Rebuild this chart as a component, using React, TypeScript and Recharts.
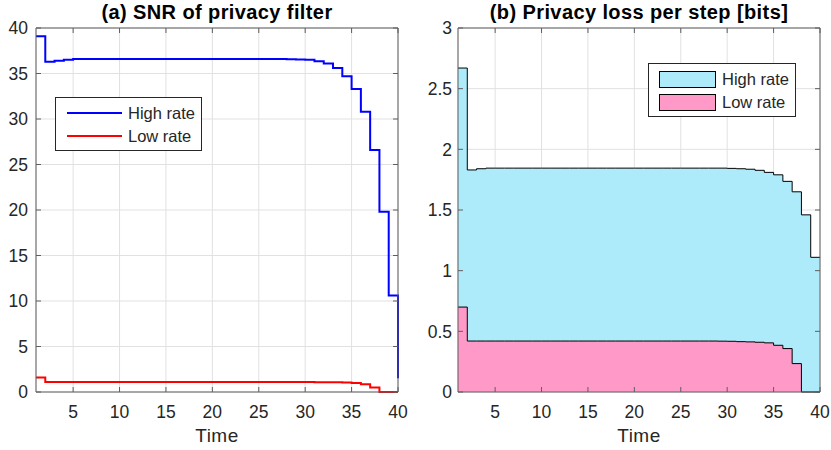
import { Area, AreaChart, CartesianGrid, Legend, Line, LineChart, XAxis, YAxis } from "recharts";

const time = [
  1, 2, 3, 4, 5, 6, 7, 8, 9, 10, 11, 12, 13, 14, 15, 16, 17, 18, 19, 20,
  21, 22, 23, 24, 25, 26, 27, 28, 29, 30, 31, 32, 33, 34, 35, 36, 37, 38, 39, 40,
];

// (a) SNR of privacy filter
const snrHigh = [
  39.1, 36.3, 36.4, 36.5, 36.6, 36.6, 36.6, 36.6, 36.6, 36.6, 36.6, 36.6, 36.6, 36.6, 36.6, 36.6,
  36.6, 36.6, 36.6, 36.6, 36.6, 36.6, 36.6, 36.6, 36.6, 36.6, 36.58, 36.57, 36.55, 36.5, 36.35,
  36.1, 35.6, 34.7, 33.3, 30.8, 26.6, 19.8, 10.6, 1.5,
];
const snrLow = [
  1.6, 1.1, 1.1, 1.1, 1.1, 1.1, 1.1, 1.1, 1.1, 1.1, 1.1, 1.1, 1.1, 1.1, 1.1, 1.1, 1.1, 1.1, 1.1,
  1.1, 1.1, 1.1, 1.1, 1.1, 1.1, 1.1, 1.1, 1.1, 1.1, 1.09, 1.08, 1.07, 1.06, 1.04, 1.0, 0.85, 0.5,
  0, 0, 0,
];

// (b) Privacy loss per step [bits]
const lossHigh = [
  2.67, 1.83, 1.84, 1.845, 1.845, 1.845, 1.845, 1.845, 1.845, 1.845, 1.845, 1.845, 1.845, 1.845,
  1.845, 1.845, 1.845, 1.845, 1.845, 1.845, 1.845, 1.845, 1.845, 1.845, 1.845, 1.845, 1.845, 1.845,
  1.845, 1.843, 1.84, 1.836, 1.827, 1.81, 1.79, 1.736, 1.65, 1.46, 1.11, 1.11,
];
const lossLow = [
  0.7, 0.42, 0.42, 0.42, 0.42, 0.42, 0.42, 0.42, 0.42, 0.42, 0.42, 0.42, 0.42, 0.42, 0.42, 0.42,
  0.42, 0.42, 0.42, 0.42, 0.42, 0.42, 0.42, 0.42, 0.42, 0.42, 0.42, 0.42, 0.419, 0.418, 0.415,
  0.413, 0.41, 0.405, 0.385, 0.358, 0.234, 0, 0, 0,
];

const timeTicks = [5, 10, 15, 20, 25, 30, 35, 40];
const snrTicks = [0, 5, 10, 15, 20, 25, 30, 35, 40];
const lossTicks = [0, 0.5, 1, 1.5, 2, 2.5, 3];

const FONT = '"Liberation Sans", Arial, Helvetica, sans-serif';
const AXIS = "#5e5e5e";
const TEXT = "#262626";
const GRID = "#e1e1e1";
const CYAN = "#adebfb";
const PINK = "#ff99c8";

const TICK = { fill: TEXT, fontSize: 17.5 };
const TIME_LABEL = { value: "Time", position: "insideBottom" as const, offset: 8, fill: TEXT, fontSize: 19, letterSpacing: 0.5 };

const blank = () => "";

function LineLegend() {
  const rows = [
    { name: "High rate", color: "#0000ff" },
    { name: "Low rate", color: "#ff0000" },
  ];
  return (
    <div
      style={{
        width: 147,
        height: 54,
        boxSizing: "border-box",
        border: `1px solid ${TEXT}`,
        background: "#fff",
        position: "relative",
        fontFamily: FONT,
        fontSize: 16.5,
        color: TEXT,
      }}
    >
      {rows.map((r, i) => (
        <div key={r.name} style={{ position: "absolute", left: 0, top: 5 + i * 23, height: 20, display: "flex", alignItems: "center" }}>
          <div style={{ marginLeft: 11, width: 55, height: 2, background: r.color }} />
          <span style={{ marginLeft: 6, lineHeight: "20px" }}>{r.name}</span>
        </div>
      ))}
    </div>
  );
}

function AreaLegend() {
  const rows = [
    { name: "High rate", color: CYAN },
    { name: "Low rate", color: PINK },
  ];
  return (
    <div
      style={{
        width: 148,
        height: 54,
        boxSizing: "border-box",
        border: `1px solid ${TEXT}`,
        background: "#fff",
        position: "relative",
        fontFamily: FONT,
        fontSize: 16.5,
        color: TEXT,
      }}
    >
      {rows.map((r, i) => (
        <div key={r.name} style={{ position: "absolute", left: 0, top: 5 + i * 23, height: 20, display: "flex", alignItems: "center" }}>
          <div style={{ marginLeft: 10, width: 57, height: 17, boxSizing: "border-box", border: "1px solid #000", background: r.color }} />
          <span style={{ marginLeft: 6, lineHeight: "20px" }}>{r.name}</span>
        </div>
      ))}
    </div>
  );
}

function SnrChart() {
  const data = time.map((t, i) => ({ t, high: snrHigh[i], low: snrLow[i] }));
  return (
    <LineChart width={415} height={450} data={data} margin={{ top: 0, right: 16, bottom: 0, left: 6 }} style={{ fontFamily: FONT }}>
      <CartesianGrid stroke={GRID} />
      <XAxis
        dataKey="t"
        type="number"
        domain={[1, 40]}
        ticks={timeTicks}
        height={58}
        tickSize={-5}
        tickMargin={18.5}
        stroke={AXIS}
        tick={TICK}
        label={TIME_LABEL}
      />
      <XAxis
        xAxisId="top"
        orientation="top"
        dataKey="t"
        type="number"
        domain={[1, 40]}
        ticks={timeTicks}
        allowDataOverflow
        height={28}
        tickSize={-5}
        tickFormatter={blank}
        stroke={AXIS}
        label={{ value: "(a) SNR of privacy filter", position: "insideTop", offset: 4.8, fill: "#000", fontSize: 20, fontWeight: "bold", letterSpacing: 0.4 }}
      />
      <YAxis
        type="number"
        domain={[0, 40]}
        ticks={snrTicks}
        width={30}
        tickSize={-5}
        tickMargin={13}
        stroke={AXIS}
        tick={TICK}
      />
      <YAxis
        yAxisId="right"
        orientation="right"
        type="number"
        domain={[0, 40]}
        ticks={snrTicks}
        allowDataOverflow
        width={1}
        tickSize={-5}
        tickFormatter={blank}
        stroke={AXIS}
      />
      <Legend
        layout="horizontal"
        verticalAlign="middle"
        align="center"
        content={() => <LineLegend />}
        wrapperStyle={{ left: 55, top: 97, width: 147, height: 54 }}
      />
      <Line type="stepAfter" dataKey="high" name="High rate" stroke="#0000ff" strokeWidth={2} dot={false} isAnimationActive={false} />
      <Line type="stepAfter" dataKey="low" name="Low rate" stroke="#ff0000" strokeWidth={2} dot={false} isAnimationActive={false} />
    </LineChart>
  );
}

function LossChart() {
  const data = time.map((t, i) => ({ t, high: lossHigh[i], low: lossLow[i] }));
  return (
    <AreaChart width={416} height={450} data={data} margin={{ top: 0, right: 10, bottom: 0, left: 10 }} style={{ fontFamily: FONT }}>
      <CartesianGrid stroke={GRID} />
      <XAxis
        dataKey="t"
        type="number"
        domain={[1, 40]}
        ticks={timeTicks}
        height={58}
        tickSize={-5}
        tickMargin={18.5}
        stroke={AXIS}
        tick={TICK}
        label={TIME_LABEL}
      />
      <XAxis
        xAxisId="top"
        orientation="top"
        dataKey="t"
        type="number"
        domain={[1, 40]}
        ticks={timeTicks}
        allowDataOverflow
        height={28}
        tickSize={-5}
        tickFormatter={blank}
        stroke={AXIS}
        label={{ value: "(b) Privacy loss per step [bits]", position: "insideTop", offset: 4.8, fill: "#000", fontSize: 20, fontWeight: "bold", letterSpacing: 0.4 }}
      />
      <YAxis
        type="number"
        domain={[0, 3]}
        ticks={lossTicks}
        width={33}
        tickSize={-5}
        tickMargin={11}
        stroke={AXIS}
        tick={TICK}
      />
      <YAxis
        yAxisId="right"
        orientation="right"
        type="number"
        domain={[0, 3]}
        ticks={lossTicks}
        allowDataOverflow
        width={1}
        tickSize={-5}
        tickFormatter={blank}
        stroke={AXIS}
      />
      <Legend
        layout="horizontal"
        verticalAlign="middle"
        align="center"
        content={() => <AreaLegend />}
        wrapperStyle={{ left: 233, top: 63, width: 148, height: 54 }}
      />
      <Area type="stepAfter" dataKey="high" name="High rate" stroke="#000" strokeWidth={1} fill={CYAN} fillOpacity={1} dot={false} activeDot={false} isAnimationActive={false} />
      <Area type="stepAfter" dataKey="low" name="Low rate" stroke="#000" strokeWidth={1} fill={PINK} fillOpacity={1} dot={false} activeDot={false} isAnimationActive={false} />
    </AreaChart>
  );
}

export default function App() {
  return (
    <div style={{ position: "absolute", left: 0, top: 0, width: 831, height: 450, background: "#fff", fontFamily: FONT }}>
      <div style={{ position: "absolute", left: 0, top: 0 }}>
        <SnrChart />
      </div>
      <div style={{ position: "absolute", left: 415, top: 0 }}>
        <LossChart />
      </div>
    </div>
  );
}
